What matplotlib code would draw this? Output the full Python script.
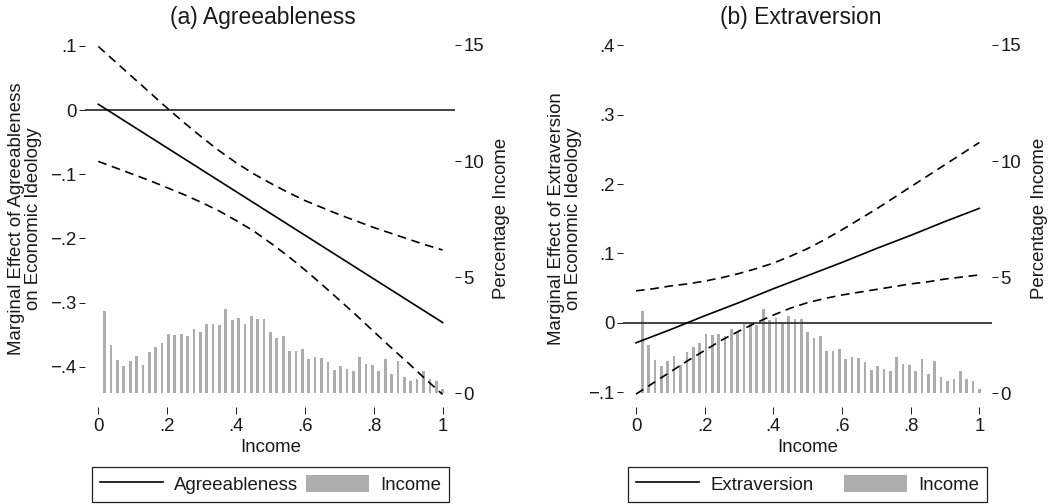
import matplotlib
matplotlib.use("Agg")
import matplotlib.pyplot as plt
from matplotlib.patches import Patch
from matplotlib.lines import Line2D

plt.rcParams['font.family'] = ['Liberation Sans', 'DejaVu Sans']

# ---------------- data ----------------
income_levels = [0.0185, 0.037, 0.0556, 0.0741, 0.0926, 0.1111, 0.1296, 0.1481, 0.1667,
                 0.1852, 0.2037, 0.2222, 0.2407, 0.2593, 0.2778, 0.2963, 0.3148, 0.3333,
                 0.3519, 0.3704, 0.3889, 0.4074, 0.4259, 0.4444, 0.463, 0.4815, 0.5,
                 0.5185, 0.537, 0.5556, 0.5741, 0.5926, 0.6111, 0.6296, 0.6481, 0.6667,
                 0.6852, 0.7037, 0.7222, 0.7407, 0.7593, 0.7778, 0.7963, 0.8148, 0.8333,
                 0.8519, 0.8704, 0.8889, 0.9074, 0.9259, 0.9444, 0.963, 0.9815, 1.0]
income_pct = [3.56, 2.10, 1.44, 1.19, 1.37, 1.62, 1.21, 1.77, 1.99, 2.16, 2.56, 2.49,
              2.54, 2.45, 2.77, 2.62, 3.00, 2.98, 2.95, 3.63, 3.15, 3.24, 3.00, 3.31,
              3.20, 3.21, 2.65, 2.36, 2.47, 1.83, 1.80, 1.92, 1.47, 1.57, 1.50, 1.34,
              1.01, 1.16, 1.05, 0.95, 1.56, 1.24, 1.22, 0.98, 1.49, 0.84, 1.38, 0.72,
              0.55, 0.63, 0.97, 0.63, 0.53, 0.20]

est_income = [0.0, 0.1, 0.2, 0.3, 0.4, 0.5, 0.6, 0.7, 0.8, 0.9, 1.0]
agree_est = [0.009, -0.025, -0.059, -0.093, -0.127, -0.161, -0.195, -0.229, -0.263, -0.297, -0.331]
extra_est = [-0.029, -0.010, 0.010, 0.029, 0.049, 0.068, 0.087, 0.107, 0.126, 0.146, 0.165]

ci_income = [0.0, 0.05, 0.1, 0.15, 0.2, 0.25, 0.3, 0.35, 0.4, 0.45, 0.5,
             0.55, 0.6, 0.65, 0.7, 0.75, 0.8, 0.85, 0.9, 0.95, 1.0]
agree_hi = [0.099, 0.075, 0.051, 0.027, 0.003, -0.020, -0.042, -0.063, -0.082, -0.099, -0.114,
            -0.128, -0.141, -0.152, -0.163, -0.173, -0.183, -0.192, -0.201, -0.210, -0.218]
agree_lo = [-0.080, -0.090, -0.100, -0.110, -0.121, -0.132, -0.144, -0.157, -0.172, -0.188, -0.207,
            -0.227, -0.249, -0.272, -0.296, -0.320, -0.345, -0.370, -0.394, -0.419, -0.443]
extra_hi = [0.046, 0.049, 0.053, 0.056, 0.060, 0.065, 0.071, 0.078, 0.086, 0.096, 0.107,
            0.120, 0.134, 0.149, 0.164, 0.180, 0.196, 0.212, 0.228, 0.244, 0.260]
extra_lo = [-0.103, -0.087, -0.071, -0.055, -0.040, -0.025, -0.012, 0.000, 0.011, 0.021, 0.029,
            0.035, 0.040, 0.044, 0.048, 0.052, 0.056, 0.059, 0.063, 0.066, 0.069]

x_ticks = [0, 0.2, 0.4, 0.6, 0.8, 1.0]
x_ticklabels = ['0', '.2', '.4', '.6', '.8', '1']
pct_ticks = [0, 5, 10, 15]
pct_ticklabels = ['0', '5', '10', '15']
agree_ticks = [0.1, 0.0, -0.1, -0.2, -0.3, -0.4]
agree_ticklabels = ['.1', '0', '\u2212.1', '\u2212.2', '\u2212.3', '\u2212.4']
extra_ticks = [0.4, 0.3, 0.2, 0.1, 0.0, -0.1]
extra_ticklabels = ['.4', '.3', '.2', '.1', '0', '\u2212.1']

# ---------------- figure ----------------
W, H = 1054, 504
fig = plt.figure(figsize=(W / 100, H / 100), dpi=100)
FS = 13.4
TXT = '#1a1a1a'
BAR = '#adadad'
LW = 1.2
DASH = (0, (5.2, 3.4))


def fx(px):
    return px / W


def fy(py):
    return 1 - py / H


def make_panel(left_px, right_px, xlim, ylim, est, hi, lo, yticks, yticklabels,
               title, title_x, ylabel, ylabel_x, pct_label_x, legend_label, leg_colsp):
    top_px, bot_px = 31, 407
    ax = fig.add_axes([fx(left_px), fy(bot_px), fx(right_px - left_px), (bot_px - top_px) / H])
    ax2 = ax.twinx()
    ax.set_zorder(ax2.get_zorder() + 1)
    ax.patch.set_visible(False)

    ax2.bar(income_levels, income_pct, width=0.0078, color=BAR, linewidth=0, zorder=1)
    ax2.set_ylim(-0.59, 15.60)
    ax2.set_yticks(pct_ticks)
    ax2.set_yticklabels(pct_ticklabels)

    ax.axhline(0, color='#333333', lw=1.3, zorder=2)
    ax.plot(est_income, est, color='black', lw=LW, zorder=3)
    ax.plot(ci_income, hi, color='black', lw=LW, ls=DASH, zorder=3)
    ax.plot(ci_income, lo, color='black', lw=LW, ls=DASH, zorder=3)
    ax.set_xlim(*xlim)
    ax.set_ylim(*ylim)
    ax.set_xticks(x_ticks)
    ax.set_xticklabels(x_ticklabels)
    ax.set_yticks(yticks)
    ax.set_yticklabels(yticklabels)

    for a in (ax, ax2):
        for s in a.spines.values():
            s.set_visible(False)
    ax.tick_params(axis='y', direction='out', length=4.5, width=0.7, pad=1.5,
                   labelsize=FS, colors=TXT)
    ax.tick_params(axis='x', direction='out', length=4.8, width=0.7, pad=3,
                   labelsize=FS, colors=TXT)
    ax2.tick_params(axis='y', direction='out', length=4.0, width=0.7, pad=2,
                    labelsize=FS, colors=TXT)

    fig.text(fx(title_x), fy(24), title, ha='center', va='baseline', fontsize=16.5, color=TXT)
    fig.text(fx(ylabel_x), fy(219), ylabel, rotation=90, ha='center', va='center',
             fontsize=FS, linespacing=1.0, color=TXT, multialignment='center')
    fig.text(fx(pct_label_x), fy(218), 'Percentage Income', rotation=90, ha='center',
             va='center', fontsize=FS, color=TXT)
    data_mid = left_px + (0.5 - xlim[0]) / (xlim[1] - xlim[0]) * (right_px - left_px)
    fig.text(fx(data_mid), fy(452), 'Income', ha='center', va='baseline', fontsize=FS, color=TXT)

    handles = [Line2D([], [], color='black', lw=LW), Patch(facecolor=BAR, edgecolor='none')]
    leg = fig.legend(handles, [legend_label, 'Income'], loc='upper center',
                     bbox_to_anchor=(fx(data_mid), fy(467)), bbox_transform=fig.transFigure,
                     ncol=2, fontsize=FS, frameon=True, fancybox=False, framealpha=1,
                     edgecolor='#222222', borderpad=0.42, handlelength=3.4, handleheight=1.05,
                     handletextpad=0.6, columnspacing=leg_colsp, borderaxespad=0)
    leg.get_frame().set_linewidth(0.9)
    for t in leg.get_texts():
        t.set_color(TXT)
    return ax


make_panel(85, 455, (-0.0386, 1.036), (-0.4626, 0.1231), agree_est, agree_hi, agree_lo,
           agree_ticks, agree_ticklabels, '(a) Agreeableness', 263,
           'Marginal Effect of Agreeableness\non Economic Ideology', 25, 502,
           'Agreeableness', 0.4)
make_panel(623, 992, (-0.0379, 1.037), (-0.1216, 0.4209), extra_est, extra_hi, extra_lo,
           extra_ticks, extra_ticklabels, '(b) Extraversion', 801,
           'Marginal Effect of Extraversion\non Economic Ideology', 565, 1039,
           'Extraversion', 1.6)

fig.savefig('out.png', dpi=100)
